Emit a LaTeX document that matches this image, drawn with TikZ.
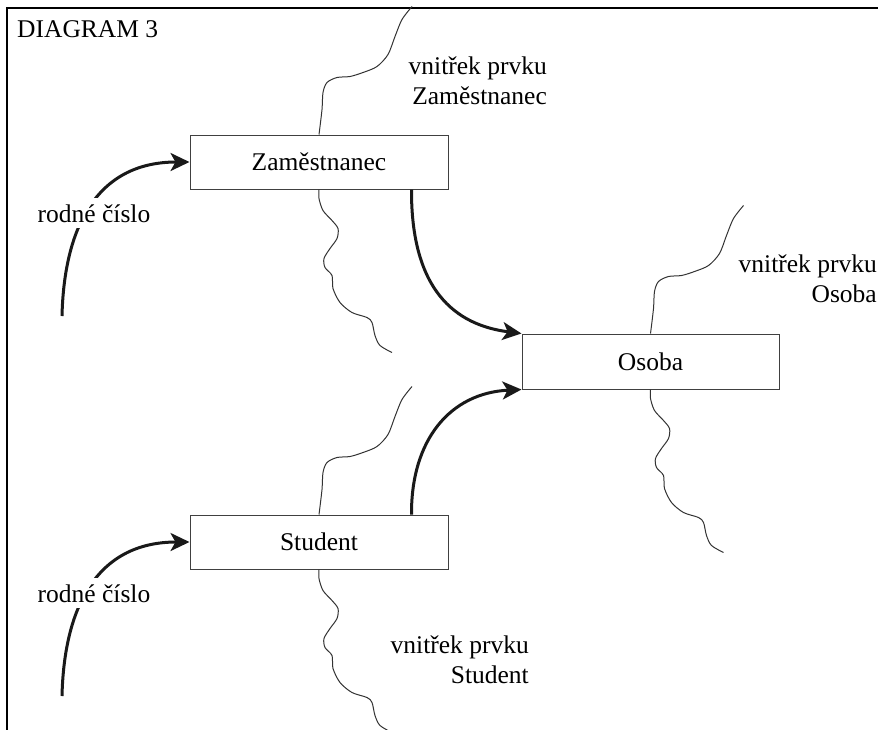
\documentclass[tikz,border=0pt]{standalone}
\usepackage{fontspec}
\setmainfont{Liberation Serif}
\usetikzlibrary{arrows.meta,calc}

% boundary lines separating the inside of an element from the outside
\newcommand{\wavetop}[1]{%
  \draw[wave, shift={(#1)}] plot[smooth] coordinates {(0,0) (3,-25) (4,-42) (8,-52) (18,-57) (31,-58) (44,-62) (58,-68) (69,-80) (76,-98) (83,-115) (93,-128)};}
\newcommand{\wavebottom}[1]{%
  \draw[wave, shift={(#1)}] plot[smooth] coordinates {(0,0) (0,9) (4,21) (13,31) (19,39) (18,49) (11,59) (5,69) (6,78) (13,86) (14,99) (21,113) (33,123) (48,128) (53,133) (56,146) (61,156) (73,163)};}

\begin{document}
\begin{tikzpicture}[
  x=1pt, y=-1pt,
  every node/.style={font=\fontsize{25.5}{30}\selectfont},
  entity/.style={draw=black!75, line width=1pt, fill=white,
    minimum width=258pt, minimum height=54pt, inner sep=0pt},
  flow/.style={line width=3pt, black!90,
    -{Stealth[length=19pt, width=18pt, inset=5pt]}},
  wave/.style={line width=1pt, black!80},
  caption/.style={inner sep=0pt, align=right, anchor=base east},
  keylabel/.style={fill=white, inner sep=6pt, anchor=base}
]
\clip (0,0) rectangle (878,729);
\useasboundingbox (0,0) rectangle (878,729);

% outer frame (continues past the right and bottom edges)
\draw[line width=1.2pt] (7,900) -- (7,8) -- (1000,8);

\node[inner sep=0pt, anchor=base west] (title) at (17,37) {DIAGRAM 3};

% elements
\node[entity] (zam) at (319,162) {Zaměstnanec};
\node[entity, minimum width=257pt, minimum height=55pt] (osoba) at (650.5,361.5) {Osoba};
\node[entity] (student) at (319,542) {Student};

% boundaries
\wavetop{zam.north}
\wavebottom{zam.south}
\wavetop{osoba.north}
\wavebottom{osoba.south}
\wavetop{student.north}
\wavebottom{student.south}

% inside captions (anchored at the baseline of the last line)
\node[caption] (inzam) at (547,104) {vnitřek prvku\\Zaměstnanec};
\node[caption] (inosoba) at (877,302) {vnitřek prvku\\Osoba};
\node[caption] (instudent) at (529,683) {vnitřek prvku\\Student};

% identifying attribute arrows
\coordinate (k1) at (62,316);
\coordinate (k2) at (62,696);
\draw[flow] (k1) .. controls (64,230) and (95,162) .. (zam.west);
\draw[flow] (k2) .. controls (64,610) and (95,542) .. (student.west);
\node[keylabel] (rc1) at (94,222) {rodné číslo};
\node[keylabel] (rc2) at (94,602) {rodné číslo};

% generalisation arrows
\coordinate (zs) at ($(zam.south east)+(-37,0)$);
\coordinate (sn) at ($(student.north east)+(-37,0)$);
\draw[flow] (zs) .. controls (411,290) and (455,325) .. (osoba.north west);
\draw[flow] (sn) .. controls (411,440) and (450,393) .. (osoba.south west);
\end{tikzpicture}
\end{document}
